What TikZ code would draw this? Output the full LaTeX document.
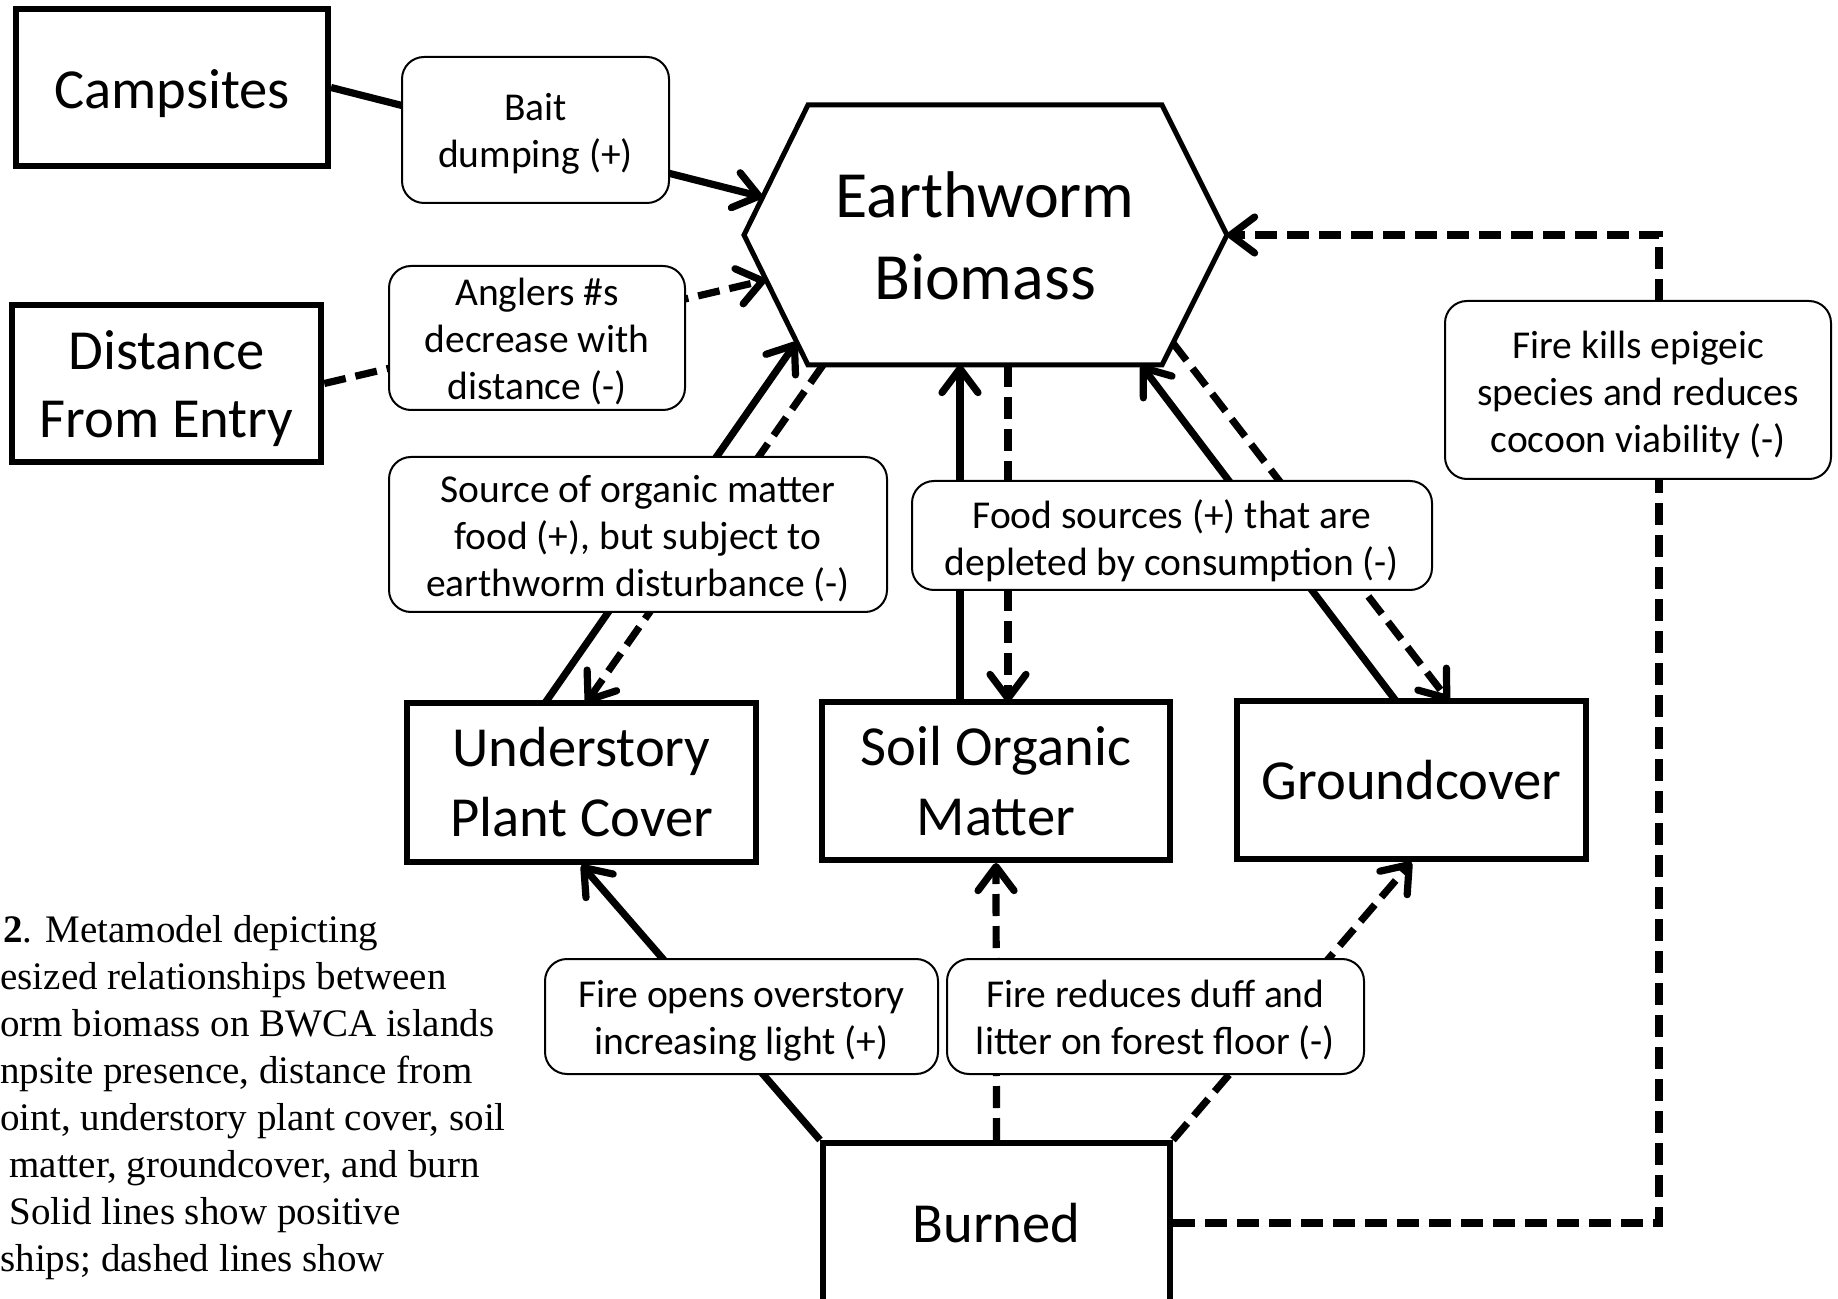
\documentclass[tikz,border=0pt]{standalone}
\usepackage{fontspec}
\setmainfont{Carlito}
\newfontfamily\capfont{Liberation Serif}
\usetikzlibrary{arrows.meta}
\begin{document}
\begin{tikzpicture}[x=0.5pt,y=-0.5pt,
  box/.style={draw, line width=3pt, inner sep=0pt, align=center, font=\fontsize{28.3}{35}\selectfont},
  boxtxt/.style={inner sep=0pt, align=center, font=\fontsize{28.3}{34}\selectfont},
  lab/.style={draw, fill=white, rounded corners=11pt, line width=1pt, inner sep=0pt},
  labtxt/.style={inner sep=0pt, align=center, yshift=-2pt, font=\fontsize{19.75}{23.5}\selectfont},
  conn/.style={line width=3.6pt},
  neg/.style={line width=3.6pt, dash pattern=on 11pt off 5pt},
  arr/.style={-{Straight Barb[length=12pt,width=18pt,round]}},
  captxt/.style={anchor=base west, inner sep=0pt, font=\capfont\fontsize{19.5}{23.5}\selectfont}]
\useasboundingbox (0,0) rectangle (1838,1299);

% hexagon
\coordinate (hL) at (744,235);
\coordinate (hTL) at (808,105);
\coordinate (hTR) at (1162,105);
\coordinate (hR) at (1227,235);
\coordinate (hBR) at (1162,365);
\coordinate (hBL) at (808,365);
\draw[line width=2.5pt, line join=miter] (hL) -- (hTL) -- (hTR) -- (hR) -- (hBR) -- (hBL) -- cycle;
\node[font=\fontsize{33}{41}\selectfont, align=center] (hex) at (985,236) {Earthworm\\Biomass};

% boxes
\node[box, minimum width=156pt, minimum height=78.5pt] (camp) at (172,87.5) {};
\node[boxtxt, yshift=-2.8pt] (campT) at (camp.center) {Campsites};
\node[box, minimum width=154.75pt, minimum height=78.5pt] (dist) at (166.5,383.5) {};
\node[boxtxt, yshift=-2.5pt] (distT) at (dist.center) {Distance\\From Entry};
\node[box, minimum width=174.5pt, minimum height=79.5pt] (under) at (581.5,782.5) {Understory\\Plant Cover};
\node[box, minimum width=174pt, minimum height=79pt] (soil) at (996,781) {Soil Organic\\Matter};
\node[box, minimum width=174.5pt, minimum height=79pt] (ground) at (1411.5,780) {Groundcover};
\node[box, minimum width=173.5pt, minimum height=80pt] (burn) at (996.5,1223) {Burned};

% attachment points
\coordinate (hA) at (762.5,197);
\coordinate (hB) at (766,280);
\coordinate (hU1) at (796.5,342);
\coordinate (hU2) at (823,365);
\coordinate (hS1) at (960,365);
\coordinate (hS2) at (1008,365);
\coordinate (hG1) at (1141,365);
\coordinate (hG2) at (1173,343);
\coordinate (uT1) at (545,703);
\coordinate (uT2) at (586,703);
\coordinate (sT1) at (960,702);
\coordinate (sT2) at (1008,702);
\coordinate (gT1) at (1396,701);
\coordinate (gT2) at (1449,701);
\coordinate (k1) at (1659,1223);
\coordinate (k2) at (1659,235);

% connectors
\draw[conn, arr] (camp.east) -- (hA);
\draw[neg, arr] (dist.east) -- (hB);
\draw[conn, arr] (uT1) -- (hU1);
\draw[neg, arr] (hU2) -- (uT2);
\draw[conn, arr] (sT1) -- (hS1);
\draw[neg, arr] (hS2) -- (sT2);
\draw[conn, arr] (gT1) -- (hG1);
\draw[neg, arr] (hG2) -- (gT2);
\draw[conn, arr] (burn.north west) -- (under.south);
\draw[neg, arr] (burn.north) -- (soil.south);
\draw[neg, arr] (burn.north east) -- (ground.south);
\draw[neg, arr, line join=miter] (burn.east) -- (k1) -- (k2) -- (hR);

% labels
\node[lab, minimum width=133.5pt, minimum height=73pt] (bait) at (535.5,130) {};
\node[labtxt] (baitT) at (bait.center) {Bait\\dumping (+)};
\node[lab, minimum width=148pt, minimum height=72pt] (angl) at (537,338) {};
\node[labtxt] (anglT) at (angl.center) {Anglers \#s\\decrease with\\distance (-)};
\node[lab, minimum width=249pt, minimum height=77.5pt] (src) at (638,534.5) {};
\node[labtxt] (srcT) at (src.center) {Source of organic matter\\food (+), but subject to\\earthworm disturbance (-)};
\node[lab, minimum width=260pt, minimum height=54.5pt] (food) at (1172,535.5) {};
\node[labtxt, yshift=-0.5pt] (foodT) at (food.center) {Food sources (+) that are\\depleted by consumption (-)};
\node[lab, minimum width=193pt, minimum height=89pt] (kills) at (1638,390) {};
\node[labtxt, yshift=-0.5pt] (killsT) at (kills.center) {Fire kills epigeic\\species and reduces\\cocoon viability (-)};
\node[lab, minimum width=196.5pt, minimum height=57.5pt] (opens) at (741.5,1016.5) {};
\node[labtxt] (opensT) at (opens.center) {Fire opens overstory\\increasing light (+)};
\node[lab, minimum width=208.5pt, minimum height=57.5pt] (reduces) at (1155.5,1016.5) {};
\node[labtxt] (reducesT) at (reduces.center) {Fire reduces duff and\\litter on forest floor (-)};

% caption fragments
\node[captxt] (c1) at (3,942) {\textbf{2}. Metamodel depicting};
\node[captxt] (c2) at (0,989) {esized relationships between};
\node[captxt] (c3) at (0,1036) {orm biomass on BWCA islands};
\node[captxt] (c4) at (0,1083) {npsite presence, distance from};
\node[captxt] (c5) at (0,1130) {oint, understory plant cover, soil};
\node[captxt] (c6) at (9,1177) {matter, groundcover, and burn};
\node[captxt] (c7) at (9,1224) {Solid lines show positive};
\node[captxt] (c8) at (0,1271) {ships; dashed lines show};
\end{tikzpicture}
\end{document}
